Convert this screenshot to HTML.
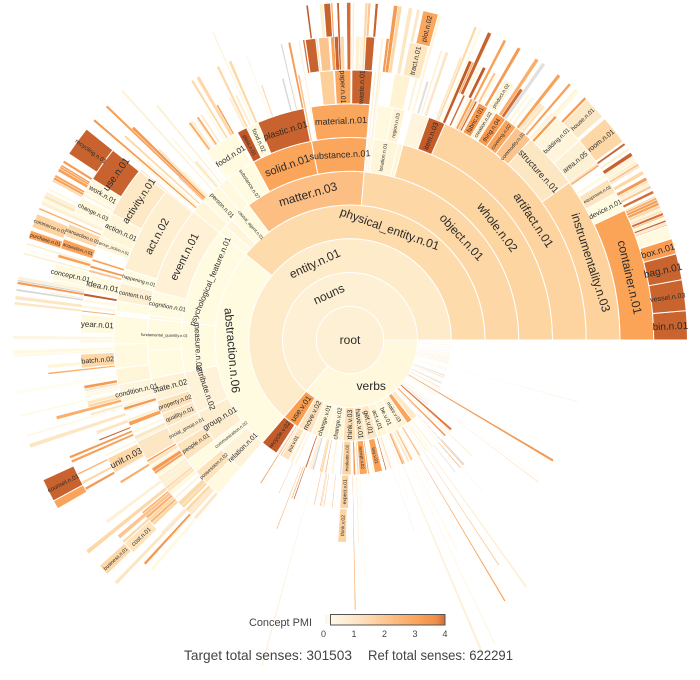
<!DOCTYPE html>
<html><head><meta charset="utf-8">
<style>
html,body{margin:0;padding:0;background:#fff;}
svg{display:block;}
text{font-family:"Liberation Sans",Arial,sans-serif;}
</style></head>
<body>
<svg id="s" width="700" height="680" viewBox="0 0 700 680" xmlns="http://www.w3.org/2000/svg">
<rect x="0" y="0" width="700" height="680" fill="#ffffff"/>
<g id="strips"></g>
<g id="arcs"></g>
<g id="labels"></g>
<g id="legend">
  <defs>
    <linearGradient id="cb" x1="0" y1="0" x2="1" y2="0">
      <stop offset="0" stop-color="#fff8e8"/>
      <stop offset="0.25" stop-color="#fee3c3"/>
      <stop offset="0.5" stop-color="#fdc48b"/>
      <stop offset="0.75" stop-color="#fba45c"/>
      <stop offset="0.92" stop-color="#f08f48"/>
      <stop offset="1" stop-color="#d26c35"/>
    </linearGradient>
  </defs>
  <rect x="325" y="615" width="6" height="9" fill="#fff8e6"/>
  <rect x="330.5" y="614.5" width="114.5" height="10.5" fill="url(#cb)" stroke="#555" stroke-width="1"/>
  <text x="249" y="626" font-size="11" fill="#444" textLength="63" lengthAdjust="spacingAndGlyphs">Concept PMI</text>
  <text x="323.5" y="637" font-size="9" fill="#444" text-anchor="middle">0</text>
  <text x="354" y="637" font-size="9" fill="#444" text-anchor="middle">1</text>
  <text x="384.5" y="637" font-size="9" fill="#444" text-anchor="middle">2</text>
  <text x="415" y="637" font-size="9" fill="#444" text-anchor="middle">3</text>
  <text x="445" y="637" font-size="9" fill="#444" text-anchor="middle">4</text>
  <text x="184" y="660" font-size="14" fill="#444" textLength="168" lengthAdjust="spacingAndGlyphs">Target total senses: 301503</text>
  <text x="368" y="660" font-size="14" fill="#444" textLength="145" lengthAdjust="spacingAndGlyphs">Ref total senses: 622291</text>
</g>
</svg>
<script>
(function(){
const CX=350, CY=340, W=33.75;
const NS='http://www.w3.org/2000/svg';
const gA=document.getElementById('arcs'), gS=document.getElementById('strips'), gL=document.getElementById('labels');
function P(r,a){const t=a*Math.PI/180;return [CX+r*Math.cos(t), CY-r*Math.sin(t)];}
function f(n){return n.toFixed(2);}
function path(r0,r1,a0,a1){
  const L=(a1-a0)>180?1:0;
  const p0=P(r1,a0),p1=P(r1,a1),p2=P(r0,a1),p3=P(r0,a0);
  return 'M'+f(p0[0])+','+f(p0[1])+'A'+r1+','+r1+' 0 '+L+' 0 '+f(p1[0])+','+f(p1[1])+
         'L'+f(p2[0])+','+f(p2[1])+'A'+r0+','+r0+' 0 '+L+' 1 '+f(p3[0])+','+f(p3[1])+'Z';
}
function add(g,d,fill,sw){const e=document.createElementNS(NS,'path');e.setAttribute('d',d);e.setAttribute('fill',fill);e.setAttribute('stroke','#fff');e.setAttribute('stroke-width',sw);g.appendChild(e);}
function lab(ring,a0,a1,t,o,s){
  const am=(a0+a1)/2, r=W*(ring+0.5);
  const p=P(r,am);
  let a=((am%360)+360)%360, rot=0;
  if(o==='tan'){ rot=(a>0&&a<180)?90-a:270-a; }
  else if(o==='rad'){ rot=(a>90&&a<270)?180-a:-a; }
  rot=((rot+180)%360+360)%360-180;
  const e=document.createElementNS(NS,'text');
  e.setAttribute('x',0);e.setAttribute('y',0);
  e.setAttribute('transform','translate('+f(p[0])+','+f(p[1])+') rotate('+f(rot)+')');
  e.setAttribute('text-anchor','middle');e.setAttribute('dy','0.35em');
  e.setAttribute('font-size',s);e.setAttribute('fill','#2a2a2a');
  e.textContent=t;gL.appendChild(e);
}
let seed=987654;
function rnd(){seed|=0;seed=seed+0x6D2B79F5|0;let t=Math.imul(seed^seed>>>15,1|seed);t=t+Math.imul(t^t>>>7,61|t)^t;return((t^t>>>14)>>>0)/4294967296;}
function pick(p){return p[Math.floor(rnd()*p.length)];}
const PALS=[
 ['#fffadf','#fff5d8','#fdf0d3','#fde6c2','#fdd9a8'],
 ['#fcc58f','#fbae6a','#f9a257','#f59a52'],
 ['#c8632f','#d36d35','#c25b2b'],
 ['#e0e0e0','#d6d6d6'],
 ['#fffcf1','#fff9e9','#fef6e4']
];
function strips(a0,a1,rs,re,dens,mix,wmin,wmax,bias){
  let a=a0;
  while(a<a1){
    const w=wmin+rnd()*(wmax-wmin);
    if(rnd()<dens){
      const u=rnd();let acc=0,k=0;
      for(k=0;k<mix.length;k++){acc+=mix[k];if(u<acc)break;}
      if(k>=mix.length)k=0;
      const col=pick(PALS[k]);
      const v=Math.pow(rnd(),bias||1);
      const end=rs+Math.floor(v*(re-rs+1));
      const aa=Math.min(a+w,a1);
      add(gS,path(W*rs,W*(end+1),a,aa),col,0.5);
    }
    a+=w;
  }
}
// noun strips
strips(19.8,25.3,9,9,0.9,[0.2,0.45,0.35,0,0],0.3,0.6);
strips(25.3,35.7,9,9,0.6,[0.55,0.3,0.07,0.03,0.05],0.3,0.7);
strips(29,35.7,8,8,0.7,[0.6,0.3,0.05,0,0.05],0.4,0.8);
strips(45.5,48,9,9,0.5,[0.6,0.3,0.05,0,0.05],0.3,0.7);
strips(47,66.3,8,9,0.6,[0.4,0.35,0.17,0.03,0.05],0.3,0.7,1.3);
strips(61.5,66.3,7,7,0.7,[0.5,0.3,0.15,0,0.05],0.3,0.7);
strips(66.3,70.5,7,9,0.3,[0.5,0.2,0.05,0.05,0.2],0.3,0.7);
strips(70.5,76,7,9,0.6,[0.65,0.15,0.03,0.04,0.13],0.3,0.8);
strips(78,83.3,8,9,0.5,[0.65,0.2,0.03,0.04,0.08],0.3,0.8);
strips(83.3,85.2,5,8,0.7,[0.45,0.4,0.15,0,0],0.25,0.5);
strips(85.2,101,8,9,0.5,[0.4,0.3,0.22,0.03,0.05],0.3,0.8);
strips(99.5,101.3,6,8,0.7,[0.5,0.35,0.15,0,0],0.25,0.5);
strips(101.3,113,7,8,0.35,[0.45,0.3,0.15,0.05,0.05],0.25,0.6);
strips(113,127,7,9,0.45,[0.62,0.15,0.03,0.04,0.16],0.25,0.7,1.6);
strips(127,141,6,9,0.5,[0.62,0.15,0.03,0.04,0.16],0.25,0.7,1.6);
strips(146.5,152,9,9,0.5,[0.4,0.45,0.15,0,0],0.3,0.6);
strips(151,166,8,9,0.45,[0.6,0.2,0.04,0.04,0.12],0.3,0.7,1.3);
strips(162.5,166,7,7,0.6,[0.5,0.4,0.1,0,0],0.3,0.6);
strips(166,174,8,9,0.45,[0.62,0.2,0.02,0.04,0.12],0.3,0.7);
strips(169.5,174,7,7,0.6,[0.6,0.3,0.05,0,0.05],0.3,0.7);
strips(174,191,7,9,0.38,[0.62,0.14,0.02,0.03,0.19],0.3,0.8,1.6);
strips(191,205.5,7,9,0.4,[0.58,0.2,0.03,0.04,0.15],0.3,0.8,1.5);
strips(205.5,229.5,7,9,0.32,[0.55,0.25,0.03,0.04,0.13],0.3,0.8,1.2);
strips(191,229.5,6,6,0.75,[0.7,0.22,0.03,0,0.05],0.4,1.2);
// verb strips
strips(237,312,3,3,0.6,[0.55,0.28,0.05,0.04,0.08],0.4,1.0);
strips(237,315,4,9,0.16,[0.4,0.4,0.05,0.08,0.07],0.2,0.45,3);
strips(311.5,360,2,2,0.55,[0.25,0.03,0,0.12,0.6],0.3,0.8);
strips(311.5,345,3,6,0.12,[0.2,0.35,0.05,0.2,0.2],0.2,0.45,2.5);
add(gS,path(W*2,W*7,329,329.6),'#f39a55',0.3);
add(gS,path(W*2,W*4,318,319),'#e0763a',0.3);
add(gS,path(W*2,W*4,314.5,315.3),'#f39a55',0.3);

const S=[
[1,0,229.5,'#fdf0d4','nouns','tan',12],
[1,229.5,360,'#fff8dd','verbs','h',12],
[2,0,229.5,'#fdebc9','entity.n.01','tan',12],
[2,229.5,239,'#f99d50','use.v.01','rad',8],
[2,239,247.5,'#fde3bd','move.v.02','rad',7],
[2,247.5,257,'#fff6d8','change.v.01','rad',6],
[2,257,266,'#fff8dd','change.v.02','rad',6],
[2,266,273.5,'#fde0b5','think.v.03','rad',7],
[2,273.5,279.5,'#fde8c4','have.v.01','rad',7],
[2,279.5,286,'#fde6c0','get.v.01','rad',7],
[2,286,292,'#fff6d8','act.v.01','rad',6],
[2,292,298.5,'#fff8dd','be.v.01','rad',6],
[2,298.5,304.5,'#fff3d5','make.v.03','rad',5],
[2,304.5,308,'#fba55c','','',0],
[2,308,311.5,'#fde9c6','','',0],
[3,0,140.6,'#fddbab','physical_entity.n.01','tan',12],
[3,140.6,229.5,'#fffbe1','abstraction.n.06','tan',12],
[3,229.5,237,'#c45c2a','recycle.v.02','rad',6],
[3,239.5,243,'#fde3bd','put.v.01','rad',5],
[3,266.5,270.5,'#fdd3a0','evaluate.v.02','rad',4.5],
[3,274,277.5,'#fba55c','accept.v.02','rad',4.5],
[3,280.5,284,'#f9a257','buy.v.01','rad',4.5],
[4,0,85.2,'#fdd8a6','object.n.01','tan',12],
[4,85.2,127,'#fcbe83','matter.n.03','tan',12],
[4,127,134.5,'#fffbe1','causal_agent.n.01','rad',4.5],
[4,134.5,137.5,'#fff6da','','',0],
[4,137.5,140.6,'#fffbe1','','',0],
[4,140.6,174,'#fffbe1','psychological_feature.n.01','tan',8],
[4,174,191,'#fffbe1','measure.n.02','tan',8],
[4,191,205.5,'#fef3d8','attribute.n.02','tan',8],
[4,205.5,216.5,'#fdeed0','group.n.01','rad',8],
[4,216.5,220.5,'#fffbe1','communication.n.02','rad',4.5],
[4,220.5,229.5,'#fef3d8','relation.n.01','rad',7],
[4,266.5,269.5,'#fdd3a0','expect.v.01','rad',5],
[5,0,74.8,'#fdd5a1','whole.n.02','tan',12],
[5,74.8,76.2,'#fff5d8','','',0],
[5,76.2,83.3,'#fff5d8','location.n.01','rad',5],
[5,85.2,101,'#fba65d','substance.n.01','tan',9],
[5,101,118.5,'#fba55b','solid.n.01','tan',11],
[5,118.5,127,'#fffbe1','substance.n.07','rad',5],
[5,127,130.5,'#fffadf','','',0],
[5,130.5,136.5,'#fffadf','person.n.01','rad',6],
[5,136.5,140.6,'#fff6da','','',0],
[5,140.6,166,'#fef1d5','event.n.01','tan',11],
[5,166,173,'#fffbe1','cognition.n.01','rad',6],
[5,173,174,'#fffadf','','',0],
[5,174,183,'#fffbe1','fundamental_quantity.n.01','rad',4],
[5,183,191,'#fffbe1','','',0],
[5,191,197.5,'#fef2d6','state.n.02','rad',8],
[5,197.5,201.5,'#fde2b9','property.n.02','rad',6],
[5,201.5,205.5,'#fde7c3','quality.n.01','rad',6],
[5,205.5,211,'#fdedcf','social_group.n.01','rad',5],
[5,211,216.5,'#fde4bc','people.n.01','rad',6],
[5,216.5,220.5,'#fffbe1','','',0],
[5,220.5,225,'#fde4bc','possession.n.02','rad',5],
[5,225,229.5,'#fffadf','','',0],
[5,266.5,269,'#fdd3a0','think.v.02','rad',5],
[6,0,66.3,'#fdd4a0','artifact.n.01','tan',12],
[6,66.3,70.5,'#c45c2a','item.n.03','rad',7],
[6,70.5,74.8,'#fef5dc','','',0],
[6,76.5,79.5,'#fff3d4','region.n.03','rad',5],
[6,79.5,83.3,'#fffadf','','',0],
[6,85.2,99.5,'#fba65d','material.n.01','tan',9],
[6,101.3,113,'#c8632f','plastic.n.01','tan',9],
[6,113,116,'#fffadf','food.n.02','rad',6],
[6,116,118.5,'#c0592a','glass.n.01','rad',5],
[6,119,127,'#fffbe1','food.n.01','tan',8],
[6,141,162.5,'#fdefd0','act.n.02','tan',11],
[6,162.5,166,'#fffbe1','happening.n.01','rad',5],
[6,166,170.5,'#fdefd2','content.n.05','rad',6],
[6,170.5,173,'#fffbe1','','',0],
[6,174,181,'#fffbe1','','',0],
[6,181,187,'#fffadf','','',0],
[6,187,191,'#fff5d8','','',0],
[6,191,195.5,'#fef6dc','condition.n.01','rad',7],
[6,205.5,210.5,'#fde6c4','','',0],
[7,0,35.7,'#fdd29d','instrumentality.n.03','tan',12],
[7,35.7,48,'#fde6c2','structure.n.01','tan',9],
[7,48,52,'#fcc48d','commodity.n.01','rad',5],
[7,52,54.8,'#fba55c','covering.n.02','rad',5],
[7,54.8,57.3,'#f99a4e','thing.n.04','rad',6],
[7,57.3,59.3,'#fef2d8','creation.n.02','rad',5],
[7,59.3,61.5,'#f99a4e','fabric.n.01','rad',6],
[7,77,80.5,'#fff3d4','','',0],
[7,85.2,89.6,'#c8632f','waste.n.01','rad',7],
[7,89.8,93.3,'#fba65d','paper.n.01','rad',7],
[7,93.5,96.5,'#fdcf9a','','',0],
[7,141.2,152,'#fde9c6','activity.n.01','tan',10],
[7,152,157.5,'#fff6da','action.n.01','rad',7],
[7,157.5,160,'#fff6da','group_action.n.01','rad',4],
[7,166,169.5,'#fffadf','idea.n.01','rad',8],
[7,174.5,178.5,'#fffadf','year.n.01','rad',8],
[7,183,186,'#fdd7a6','batch.n.02','rad',7],
[7,206,209.5,'#fdd8a8','unit.n.03','rad',9],
[8,0,25.3,'#fba458','container.n.01','tan',12],
[8,25.3,29,'#fffbe1','device.n.01','rad',7],
[8,29,32,'#fde4bc','equipment.n.01','rad',4.5],
[8,35.7,41,'#fdf1d5','area.n.05','rad',7],
[8,41,47,'#fef5db','building.n.01','rad',6],
[8,57.3,59.3,'#fef5db','product.n.02','rad',5],
[8,75,78.7,'#fde6c0','tract.n.01','rad',7],
[8,85.3,87,'#c8632f','','',0],
[8,94,96,'#fcc48d','','',0],
[8,96.5,98.5,'#c8632f','','',0],
[8,141.3,148,'#c8632f','use.n.01','tan',10],
[8,148,151,'#fff8dc','work.n.01','rad',7],
[8,152,155,'#fff8dc','change.n.03','rad',6],
[8,157.5,160,'#fdd8a8','transaction.n.01','rad',5],
[8,160.5,162.5,'#fba55c','acquisition.n.01','rad',4.5],
[8,165.5,168.5,'#fffadf','concept.n.01','rad',7],
[8,222,224.5,'#fde4bc','cost.n.01','rad',6],
[9,0,5,'#c9642f','bin.n.01','rad',10],
[9,5,10.3,'#c9642f','vessel.n.03','rad',7],
[9,10.3,14.8,'#c9642f','bag.n.01','rad',10],
[9,14.8,17.5,'#fa9d52','box.n.01','rad',9],
[9,17.5,19.8,'#fffadf','','',0],
[9,36,41,'#fdd7a6','room.n.01','rad',7],
[9,41.5,45.5,'#fde8c5','house.n.01','rad',6],
[9,74.8,77.5,'#fba65d','plot.n.02','rad',7],
[9,93.3,94.5,'#c8632f','','',0],
[9,141.3,146.5,'#c8632f','recycling.n.01','rad',6],
[9,158,160.5,'#fdd4a0','commerce.n.01','rad',5],
[9,161,162.5,'#f9a35b','purchase.n.01','rad',5],
[9,204.5,208.5,'#c8632f','counsel.n.01','rad',6],
[9,208.5,210,'#f9a35b','','',0],
[9,222,224,'#fdd8a8','business.n.01','rad',5]
];
const c=document.createElementNS(NS,'circle');c.setAttribute('cx',CX);c.setAttribute('cy',CY);c.setAttribute('r',W);c.setAttribute('fill','#fdf0d4');c.setAttribute('stroke','#fff');c.setAttribute('stroke-width',1);gA.appendChild(c);
S.forEach(function(s){add(gA,path(W*s[0],W*(s[0]+1),s[1],s[2]),s[3],1);});
S.forEach(function(s){if(s[4])lab(s[0],s[1],s[2],s[4],s[5],s[6]);});
const rt=document.createElementNS(NS,'text');rt.setAttribute('x',CX);rt.setAttribute('y',CY);rt.setAttribute('dy','0.35em');rt.setAttribute('text-anchor','middle');rt.setAttribute('font-size',12);rt.setAttribute('fill','#2a2a2a');rt.textContent='root';gL.appendChild(rt);
})();
</script>
</body></html>
